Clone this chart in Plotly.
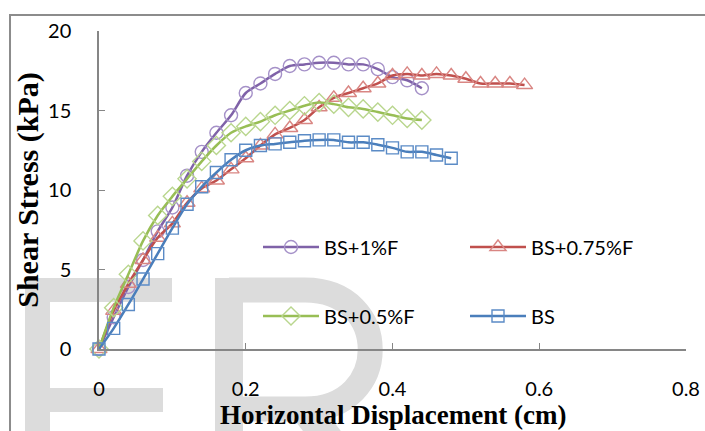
import plotly.graph_objects as go

# ---------------- data ----------------
x_bs1 = [0, 0.02, 0.04, 0.06, 0.08, 0.10, 0.12, 0.14, 0.16, 0.18, 0.20, 0.22,
         0.24, 0.26, 0.28, 0.30, 0.32, 0.34, 0.36, 0.38, 0.40, 0.42, 0.44]
y_bs1 = [0, 2.0, 3.9, 5.6, 7.4, 8.9, 10.9, 12.4, 13.6, 14.7, 16.1, 16.7,
         17.3, 17.8, 17.9, 18.0, 18.0, 17.9, 17.9, 17.6, 17.1, 16.9, 16.4]

x_bs075 = [0, 0.02, 0.04, 0.06, 0.08, 0.10, 0.12, 0.14, 0.16, 0.18, 0.20, 0.22,
           0.24, 0.26, 0.28, 0.30, 0.32, 0.34, 0.36, 0.38, 0.40, 0.42, 0.44,
           0.46, 0.48, 0.50, 0.52, 0.54, 0.56, 0.58]
y_bs075 = [0, 2.4, 4.1, 5.6, 7.0, 7.9, 9.2, 10.1, 10.6, 11.3, 12.0, 12.8,
           13.5, 13.9, 14.4, 15.2, 15.8, 16.1, 16.4, 16.7, 17.2, 17.3, 17.2,
           17.3, 17.2, 17.0, 16.7, 16.7, 16.7, 16.6]

x_bs05 = [0, 0.02, 0.04, 0.06, 0.08, 0.10, 0.12, 0.14, 0.16, 0.18, 0.20, 0.22,
          0.24, 0.26, 0.28, 0.30, 0.32, 0.34, 0.36, 0.38, 0.40, 0.42, 0.44]
y_bs05 = [0, 2.6, 4.7, 6.8, 8.4, 9.6, 10.7, 11.8, 12.8, 13.6, 14.0, 14.3,
          14.7, 15.0, 15.3, 15.5, 15.4, 15.2, 15.1, 14.9, 14.7, 14.5, 14.4]

x_bs = [0, 0.02, 0.04, 0.06, 0.08, 0.10, 0.12, 0.14, 0.16, 0.18, 0.20, 0.22,
        0.24, 0.26, 0.28, 0.30, 0.32, 0.34, 0.36, 0.38, 0.40, 0.42, 0.44,
        0.46, 0.48]
y_bs = [0, 1.3, 2.8, 4.4, 6.0, 7.6, 9.1, 10.2, 11.1, 11.9, 12.5, 12.8,
        12.9, 13.0, 13.1, 13.15, 13.15, 13.0, 13.0, 12.85, 12.65, 12.4, 12.4,
        12.2, 12.0]

series_names = ["BS+1%F", "BS+0.75%F", "BS+0.5%F", "BS"]
x_title = "Horizontal Displacement (cm)"
y_title = "Shear Stress (kPa)"

# ---------------- layout geometry (pixels) ----------------
W, H = 705, 431
L, R, T, B = 99, 686, 31, 349   # plot area edges


def px_x(p):
    return (p - L) / (R - L)


def px_y(p):
    return (B - p) / (B - T)


fig = go.Figure()

styles = [
    dict(x=x_bs1, y=y_bs1, name=series_names[0], line="#7F62A8", mk="#A591C8",
         sym="circle-open", size=13, legend="legend", lx=262, ly=247),
    dict(x=x_bs075, y=y_bs075, name=series_names[1], line="#C0504D", mk="#D98683",
         sym="triangle-up-open", size=14, legend="legend2", lx=469, ly=247),
    dict(x=x_bs05, y=y_bs05, name=series_names[2], line="#98BE55", mk="#B9D68E",
         sym="diamond-open", size=14, legend="legend3", lx=262, ly=316),
    dict(x=x_bs, y=y_bs, name=series_names[3], line="#4A7EBB", mk="#5B8BC6",
         sym="square-open", size=12, legend="legend4", lx=469, ly=316),
]

for s in styles:
    fig.add_trace(go.Scatter(
        x=s["x"], y=s["y"], name=s["name"], mode="lines+markers",
        line=dict(color=s["line"], width=2.5, shape="spline", smoothing=0.8),
        marker=dict(symbol=s["sym"], size=s["size"], color=s["mk"],
                    line=dict(width=1.4, color=s["mk"])),
        legend=s["legend"], cliponaxis=False,
    ))

# ---------------- watermark "FR" and chart border ----------------
wm = "#DCDCDC"
shapes = []


def rect(x0, y0, x1, y1):
    shapes.append(dict(type="rect", xref="paper", yref="paper",
                       x0=px_x(x0), x1=px_x(x1), y0=px_y(y0), y1=px_y(y1),
                       fillcolor=wm, line=dict(width=0), layer="below"))


# F
rect(25, 278, 50, 460)
rect(25, 278, 172, 302)
rect(25, 388, 163, 412)
# R stem
rect(215, 278, 243, 460)


def P(x, y):
    return f"{px_x(x):.4f},{px_y(y):.4f}"


# R bowl (stroked path)
bowl = (f"M{P(229, 290)} L{P(305, 290)} "
        f"C{P(392, 290)} {P(392, 409)} {P(305, 409)} L{P(229, 409)}")
shapes.append(dict(type="path", xref="paper", yref="paper", path=bowl,
                   line=dict(color=wm, width=25), layer="below"))
# R leg
leg = f"M{P(305, 409)} L{P(375, 500)}"
shapes.append(dict(type="path", xref="paper", yref="paper", path=leg,
                   line=dict(color=wm, width=30), layer="below"))

# outer chart border (top and left visible)
shapes.append(dict(type="path", xref="paper", yref="paper",
                   path=f"M{P(10, 460)} L{P(10, 15)} L{P(720, 15)}",
                   line=dict(color="#8C8C8C", width=2), layer="above"))

fig.update_layout(shapes=shapes)

tick_font = dict(family="Lato", size=20, color="#000000")

fig.update_xaxes(range=[0, 0.8], dtick=0.2, tick0=0, showgrid=False, zeroline=False,
                 showline=True, linecolor="#868686", linewidth=1.5,
                 ticks="inside", ticklen=6, tickwidth=1.3, tickcolor="#868686",
                 tickfont=tick_font, ticklabelstandoff=21, automargin=False)
fig.update_yaxes(range=[0, 20], dtick=5, tick0=0, showgrid=False, zeroline=False,
                 showline=True, linecolor="#868686", linewidth=1.5,
                 ticks="inside", ticklen=6, tickwidth=1.3, tickcolor="#868686",
                 tickfont=tick_font, ticklabelstandoff=22, automargin=False,
                 title=dict(text=y_title, standoff=1,
                            font=dict(family="Liberation Serif", size=30,
                                      color="#000000", weight="bold")))

# x-axis title as a text annotation placed below the tick labels
fig.add_annotation(text=x_title, xref="paper", yref="paper",
                   x=px_x(393), y=px_y(431), xanchor="center", yanchor="bottom",
                   showarrow=False, borderpad=0,
                   font=dict(family="Liberation Serif", size=27,
                             color="#000000", weight="bold"))

layout_legends = {}
for s in styles:
    layout_legends[s["legend"]] = dict(
        x=px_x(s["lx"] - 4), y=px_y(s["ly"]), xanchor="left", yanchor="middle",
        orientation="v", bgcolor="rgba(0,0,0,0)", borderwidth=0,
        font=dict(family="Lato", size=20, color="#000000"),
        itemwidth=56,
    )

fig.update_layout(
    width=W, height=H,
    margin=dict(l=L, r=W - R, t=T, b=H - B, pad=0),
    paper_bgcolor="white", plot_bgcolor="rgba(0,0,0,0)",
    showlegend=True,
    **layout_legends,
)

fig.write_html("out.html")
